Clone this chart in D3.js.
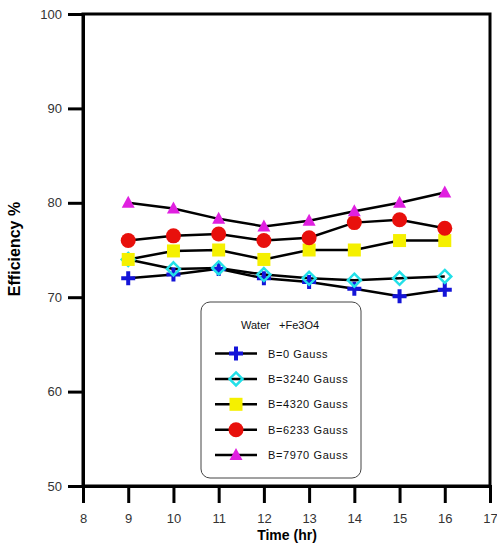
<!DOCTYPE html>
<html>
<head>
<meta charset="utf-8">
<script src="https://cdn.jsdelivr.net/npm/d3@7"></script>
<style>
  html, body { margin: 0; padding: 0; background: #fff; }
  svg { display: block; font-family: "Liberation Sans", Arial, sans-serif; }
</style>
</head>
<body>
<svg id="chart" width="497" height="544"></svg>
<script>
// Time of day (hr)
const hours = [9, 10, 11, 12, 13, 14, 15, 16];

// Efficiency (%) for each magnetic field strength
const b0    = [72.0, 72.4, 73.0, 72.0, 71.6, 70.9, 70.1, 70.8];
const b3240 = [74.0, 73.0, 73.1, 72.4, 72.0, 71.8, 72.0, 72.2];
const b4320 = [74.0, 74.9, 75.0, 74.0, 75.0, 75.0, 76.0, 76.0];
const b6233 = [76.0, 76.5, 76.7, 76.0, 76.3, 77.9, 78.2, 77.3];
const b7970 = [80.0, 79.4, 78.3, 77.5, 78.1, 79.1, 80.0, 81.1];

const seriesNames = ["B=0 Gauss", "B=3240 Gauss", "B=4320 Gauss", "B=6233 Gauss", "B=7970 Gauss"];
const xTicks = [8, 9, 10, 11, 12, 13, 14, 15, 16, 17];
const yTicks = [50, 60, 70, 80, 90, 100];

const series = [
  { name: seriesNames[0], values: b0,    marker: "cross" },
  { name: seriesNames[1], values: b3240, marker: "diamond" },
  { name: seriesNames[2], values: b4320, marker: "square" },
  { name: seriesNames[3], values: b6233, marker: "circle" },
  { name: seriesNames[4], values: b7970, marker: "triangle" }
];

const svg = d3.select("#chart");
const plotL = 83, plotR = 490, plotT = 14, plotB = 486;

const x = d3.scaleLinear().domain([8, 17]).range([plotL, plotR]);
const y = d3.scaleLinear().domain([50, 100]).range([plotB, plotT]);

// Frame
svg.append("rect")
  .attr("x", plotL).attr("y", plotT)
  .attr("width", plotR - plotL).attr("height", plotB - plotT)
  .attr("fill", "none").attr("stroke", "#000").attr("stroke-width", 3);

// Axes
const yAxis = svg.append("g").attr("transform", `translate(${plotL},0)`)
  .call(d3.axisLeft(y).tickValues(yTicks).tickSize(15).tickPadding(6).tickFormat(d3.format("d")));
const xAxis = svg.append("g").attr("transform", `translate(0,${plotB})`)
  .call(d3.axisBottom(x).tickValues(xTicks).tickSize(17).tickPadding(11).tickFormat(d3.format("d")));

[yAxis, xAxis].forEach(g => {
  g.select(".domain").attr("stroke", "#000").attr("stroke-width", 3);
  g.selectAll(".tick line").attr("stroke", "#000").attr("stroke-width", 3);
  g.selectAll(".tick text").attr("fill", "#333").attr("font-size", 13)
    .attr("font-family", "\"Liberation Sans\", Arial, sans-serif");
});

// Axis titles
svg.append("text")
  .attr("x", 287).attr("y", 540)
  .attr("text-anchor", "middle")
  .attr("font-size", 14).attr("font-weight", "bold")
  .text("Time (hr)");
svg.append("text")
  .attr("transform", "translate(20,249) rotate(-90)")
  .attr("text-anchor", "middle")
  .attr("font-size", 16).attr("font-weight", "bold")
  .text("Efficiency %");

// Marker drawing
function drawMarker(g, type) {
  switch (type) {
    case "cross":
      g.append("path").attr("d", "M-7,0H7M0,-7V7")
        .attr("stroke", "#1414d8").attr("stroke-width", 4).attr("fill", "none");
      break;
    case "diamond":
      g.append("path").attr("d", "M0,-6.5L6.5,0L0,6.5L-6.5,0Z")
        .attr("stroke", "#22e0e8").attr("stroke-width", 2.5).attr("fill", "none");
      break;
    case "square":
      g.append("rect").attr("x", -6.5).attr("y", -6.5).attr("width", 13).attr("height", 13)
        .attr("fill", "#f5f000");
      break;
    case "circle":
      g.append("circle").attr("r", 7.5).attr("fill", "#e8100c");
      break;
    case "triangle":
      g.append("path").attr("d", "M0,-7L6.5,5L-6.5,5Z").attr("fill", "#e020e0");
      break;
  }
}

const line = d3.line().x((d, i) => x(hours[i])).y(d => y(d));

series.forEach(s => {
  svg.append("path")
    .datum(s.values)
    .attr("d", line)
    .attr("fill", "none").attr("stroke", "#000").attr("stroke-width", 2.5);
});
series.forEach(s => {
  s.values.forEach((v, i) => {
    const g = svg.append("g").attr("transform", `translate(${x(hours[i])},${y(v)})`);
    drawMarker(g, s.marker);
  });
});

// Legend
const legend = svg.append("g");
legend.append("rect")
  .attr("x", 201).attr("y", 302).attr("width", 160).attr("height", 176)
  .attr("rx", 9).attr("ry", 9)
  .attr("fill", "#fff").attr("stroke", "#444").attr("stroke-width", 1);
legend.append("text")
  .attr("x", 241).attr("y", 329)
  .attr("font-size", 11).attr("fill", "#111")
  .text("Water");
legend.append("text")
  .attr("x", 279).attr("y", 329)
  .attr("font-size", 11).attr("fill", "#111")
  .text("+Fe3O4");
series.forEach((s, i) => {
  const cy = 353.5 + i * 25.4;
  legend.append("line")
    .attr("x1", 215).attr("x2", 257).attr("y1", cy).attr("y2", cy)
    .attr("stroke", "#000").attr("stroke-width", 2.5);
  const g = legend.append("g").attr("transform", `translate(236,${cy})`);
  drawMarker(g, s.marker);
  legend.append("text")
    .attr("x", 268).attr("y", cy + 4)
    .attr("font-size", 11).attr("fill", "#111")
    .attr("letter-spacing", 0.6)
    .text(s.name);
});
</script>
</body>
</html>
